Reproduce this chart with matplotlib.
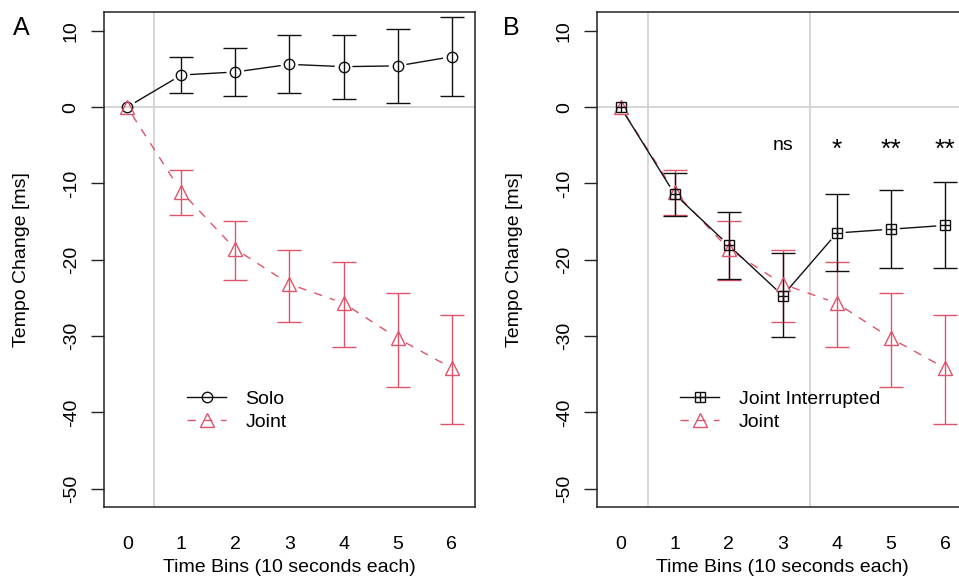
import matplotlib

matplotlib.use("Agg")
import matplotlib.pyplot as plt
from matplotlib.lines import Line2D
from matplotlib.legend_handler import HandlerTuple
import numpy as np

plt.rcParams["font.family"] = ["Liberation Sans", "DejaVu Sans"]
plt.rcParams["axes.unicode_minus"] = False

BINS = [0, 1, 2, 3, 4, 5, 6]

SOLO_MEAN = [0, 4.2, 4.6, 5.6, 5.3, 5.4, 6.6]
SOLO_LO = [0, 1.8, 1.4, 1.9, 1.0, 0.6, 1.4]
SOLO_HI = [0, 6.6, 7.8, 9.4, 9.5, 10.2, 11.8]

JOINT_MEAN = [0, -11.1, -18.6, -23.2, -25.7, -30.3, -34.2]
JOINT_LO = [0, -14.2, -22.6, -28.1, -31.4, -36.7, -41.5]
JOINT_HI = [0, -8.2, -14.9, -18.7, -20.3, -24.3, -27.2]

INTR_MEAN = [0, -11.4, -18.1, -24.7, -16.5, -16.0, -15.5]
INTR_LO = [0, -14.3, -22.5, -30.1, -21.5, -21.1, -21.1]
INTR_HI = [0, -8.6, -13.7, -19.1, -11.4, -10.9, -9.8]

SIG_BINS = [3, 4, 5, 6]
SIG_LABELS = ["ns", "*", "**", "**"]

BLACK = "#111111"
PINK = "#DF536B"
GRID = "#CCCCCC"
FS = 14
DASH = (0, (6, 6))


def _gapped_line(ax, x, y, gap=9.5, **kw):
    """Connect points like R's type='b': segments stop short of each point."""
    pts = ax.transData.transform(np.column_stack([x, y]))
    inv = ax.transData.inverted()
    for p0, p1 in zip(pts[:-1], pts[1:]):
        d = p1 - p0
        n = np.hypot(*d)
        if n <= 2 * gap:
            continue
        u = d / n
        seg = inv.transform(np.array([p0 + u * gap, p1 - u * gap]))
        ax.plot(seg[:, 0], seg[:, 1], **kw)


def _series(ax, mean, lo, hi, color, marker, ms, ls):
    x = np.array(BINS, dtype=float)
    mean = np.array(mean)
    lo = np.array(lo)
    hi = np.array(hi)
    _gapped_line(ax, x, mean, color=color, lw=1.0, ls=ls, zorder=3)
    m = hi > lo
    ax.errorbar(x[m], mean[m], yerr=[mean[m] - lo[m], hi[m] - mean[m]],
                fmt="none", ecolor=color, elinewidth=1.0, capsize=8.5,
                capthick=1.0, zorder=3)
    if marker == "sq+":
        ax.plot(x, mean, ls="none", marker="s", ms=ms, mfc="none",
                mec=color, mew=1.0, zorder=4)
        ax.plot(x, mean, ls="none", marker="+", ms=ms, mec=color,
                mew=1.0, zorder=4)
    else:
        ax.plot(x, mean, ls="none", marker=marker, ms=ms, mfc="none",
                mec=color, mew=1.0, zorder=4)


def _frame(ax, vlines):
    ax.set_xlim(-0.43, 6.43)
    ax.set_ylim(-52.4, 12.4)
    ax.axhline(0, color=GRID, lw=1.1, zorder=1)
    for v in vlines:
        ax.axvline(v, color=GRID, lw=1.1, zorder=1)
    for s in ax.spines.values():
        s.set_color("#222222")
        s.set_linewidth(1.1)
    ax.set_xticks(BINS)
    ax.set_yticks([-50, -40, -30, -20, -10, 0, 10])
    ax.tick_params(axis="x", length=0, pad=21, labelsize=FS)
    ax.tick_params(axis="y", length=9.5, width=1.0, pad=8, labelsize=FS,
                   color="#222222")
    for t in ax.get_yticklabels():
        t.set_rotation(90)
        t.set_va("center")
    ax.set_xlabel("Time Bins (10 seconds each)", fontsize=FS)
    ax.set_ylabel("Tempo Change [ms]", fontsize=FS)
    ax.xaxis.set_label_coords(0.5, -0.105)
    ax.yaxis.set_label_coords(-0.2, 0.5)


def _legend(ax, labels, markers, colors, styles, sizes):
    handles = []
    for mk, c, ls, ms in zip(markers, colors, styles, sizes):
        if mk == "sq+":
            box = Line2D([], [], color=c, ls=ls, lw=1.0, marker="s", ms=ms,
                         mfc="none", mec=c, mew=1.0)
            plus = Line2D([], [], ls="none", marker="+", ms=ms, mec=c, mew=1.0)
            handles.append((box, plus))
        else:
            handles.append(Line2D([], [], color=c, ls=ls, lw=1.0, marker=mk,
                                  ms=ms, mfc="none", mec=c, mew=1.0))
    ax.legend(handles, labels, loc="center left", bbox_to_anchor=(0.224, 0.195),
              frameon=False, borderpad=0, borderaxespad=0, fontsize=FS,
              handlelength=2.0, handletextpad=1.0, labelspacing=0.3,
              handler_map={tuple: HandlerTuple(ndivide=1)})


fig = plt.figure(figsize=(9.59, 5.82), dpi=100)
ax_a = fig.add_axes([0.1084, 0.1289, 0.3869, 0.8497])
ax_b = fig.add_axes([0.6228, 0.1289, 0.3869, 0.8497])

# Panel A: solo vs joint
_frame(ax_a, [0.5])
_series(ax_a, SOLO_MEAN, SOLO_LO, SOLO_HI, BLACK, "o", 7.5, "-")
_series(ax_a, JOINT_MEAN, JOINT_LO, JOINT_HI, PINK, "^", 10, DASH)
_legend(ax_a, ["Solo", "Joint"], ["o", "^"], [BLACK, PINK], ["-", DASH],
        [7.5, 10])

# Panel B: joint interrupted vs joint, with significance marks per bin
_frame(ax_b, [0.5, 3.5])
_series(ax_b, JOINT_MEAN, JOINT_LO, JOINT_HI, PINK, "^", 10, DASH)
_series(ax_b, INTR_MEAN, INTR_LO, INTR_HI, BLACK, "sq+", 7.2, "-")
for xb, lab in zip(SIG_BINS, SIG_LABELS):
    if lab == "ns":
        ax_b.text(xb, -5, lab, ha="center", va="center", fontsize=FS)
    else:
        ax_b.text(xb, -5.6, lab, ha="center", va="center", fontsize=19)
_legend(ax_b, ["Joint Interrupted", "Joint"], ["sq+", "^"], [BLACK, PINK],
        ["-", DASH], [7.2, 10])

fig.text(13 / 959, 1 - 35 / 582, "A", fontsize=18, va="baseline")
fig.text(503 / 959, 1 - 35 / 582, "B", fontsize=18, va="baseline")

fig.savefig("out.png", dpi=100)
